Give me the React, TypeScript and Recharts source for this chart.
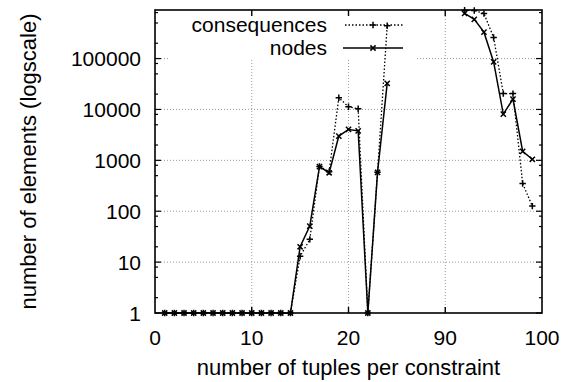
import React from "react";
import { LineChart, Line, XAxis, YAxis, CartesianGrid, Legend } from "recharts";

// ---- data ----
const tuplesLeft = [1, 2, 3, 4, 5, 6, 7, 8, 9, 10, 11, 12, 13, 14, 15, 16, 17, 18, 19, 20, 21, 22, 23, 24];
const nodesLeft = [1, 1, 1, 1, 1, 1, 1, 1, 1, 1, 1, 1, 1, 1, 20, 51, 750, 570, 3000, 4050, 3800, 1, 580, 32600];
const consequencesLeft = [1, 1, 1, 1, 1, 1, 1, 1, 1, 1, 1, 1, 1, 1, 13, 28, 760, 600, 17000, 11300, 10300, 1, 580, 440000];

const tuplesRight = [92, 93, 94, 95, 96, 97, 98, 99];
const nodesRight = [770000, 590000, 330000, 86000, 8100, 16000, 1500, 1050];
const consequencesRight = [890000, 880000, 770000, 260000, 20500, 20500, 350, 126];

const tupleTickValues = [0, 10, 20, 90, 100];
const tupleTickLabels = ["0", "10", "20", "90", "100"];
const elementMajorTicks = [1, 10, 100, 1000, 10000, 100000];
const elementTickLabels = ["1", "10", "100", "1000", "10000", "100000"];
const minorFactors = [2, 5, 8];

// ---- broken x axis: 0..25 then 90..100 ----
const breakAxis = (t: number) => (t <= 50 ? t : t - 60);

const leftRows = tuplesLeft.map((t, i) => ({ x: breakAxis(t), nodes: nodesLeft[i], consequences: consequencesLeft[i] }));
const rightRows = tuplesRight.map((t, i) => ({ x: breakAxis(t), nodes: nodesRight[i], consequences: consequencesRight[i] }));
// a null row marks the break between the two parts of the axis
const data = [...leftRows, { x: breakAxis(28), nodes: null, consequences: null }, ...rightRows];

const xTickPositions = tupleTickValues.map(breakAxis);
const X_MAX = breakAxis(100);
const Y_MAX = 900000;
const yTicks: number[] = [];
elementMajorTicks.forEach((d) => {
  yTicks.push(d);
  minorFactors.forEach((f) => {
    if (d * f < Y_MAX) yTicks.push(d * f);
  });
});
yTicks.sort((a, b) => a - b);

const FONT = "'Liberation Sans', Arial, Helvetica, sans-serif";
const W = 567;
const H = 382;
const MARGIN = { top: 10, right: 25, bottom: 0, left: 0 };
const Y_AXIS_W = 155;
const X_AXIS_H = 69;
const PLOT_X = MARGIN.left + Y_AXIS_W;
const PLOT_Y = MARGIN.top;
const PLOT_W = W - MARGIN.left - MARGIN.right - Y_AXIS_W;
const PLOT_H = H - MARGIN.top - MARGIN.bottom - X_AXIS_H;

// same mapping as the chart axes (linear x over [0, X_MAX], log y over [1, Y_MAX])
const xPix = (v: number) => PLOT_X + (v / X_MAX) * PLOT_W;
const yPix = (v: number) => PLOT_Y + PLOT_H - (Math.log10(v) / Math.log10(Y_MAX)) * PLOT_H;

// legend box (blanks the grid behind the key)
const BOX = { left: 170, right: 417, bottom: 60 };

const gridStyle = { stroke: "#9a9a9a", strokeWidth: 1, strokeDasharray: "1 2" };

const renderH = (p: any) => {
  const { x1, x2, y1, key } = p;
  if (y1 < BOX.bottom) {
    return (
      <g key={key}>
        <line x1={x1} x2={BOX.left} y1={y1} y2={y1} {...gridStyle} />
        <line x1={BOX.right} x2={x2} y1={y1} y2={y1} {...gridStyle} />
      </g>
    );
  }
  return <line key={key} x1={x1} x2={x2} y1={y1} y2={y1} {...gridStyle} />;
};

const renderV = (p: any) => {
  const { x1, y1, y2, key } = p;
  const top = x1 > BOX.left && x1 < BOX.right ? BOX.bottom : y1;
  return <line key={key} x1={x1} x2={x1} y1={top} y2={y2} {...gridStyle} />;
};

const XTick = (props: any) => {
  const { x, y, payload } = props;
  const i = xTickPositions.indexOf(payload.value);
  return (
    <text x={x} y={y + 32} textAnchor="middle" fontSize={21} fontFamily={FONT} fill="#000">
      {tupleTickLabels[i]}
    </text>
  );
};

const YTick = (props: any) => {
  const { x, y, payload } = props;
  const i = elementMajorTicks.indexOf(payload.value);
  if (i < 0) return <g />;
  return (
    <text x={x - 14} y={y + 7.5} textAnchor="end" fontSize={21} fontFamily={FONT} fill="#000">
      {elementTickLabels[i]}
    </text>
  );
};

const crossPath = (cx: number, cy: number, r: number) =>
  `M${cx - r},${cy - r}L${cx + r},${cy + r}M${cx - r},${cy + r}L${cx + r},${cy - r}`;
const plusPath = (cx: number, cy: number, r: number) => `M${cx - r},${cy}L${cx + r},${cy}M${cx},${cy - r}L${cx},${cy + r}`;

const CrossDot = (props: any) => {
  const { cx, cy, index, value } = props;
  if (value == null || cx == null || cy == null) return <g key={`c${index}`} />;
  return <path key={`c${index}`} d={crossPath(cx, cy, 2.6)} stroke="#000" strokeWidth={1.5} fill="none" />;
};

const PlusDot = (props: any) => {
  const { cx, cy, index, value } = props;
  if (value == null || cx == null || cy == null) return <g key={`p${index}`} />;
  return <path key={`p${index}`} d={plusPath(cx, cy, 3.2)} stroke="#000" strokeWidth={1.5} fill="none" />;
};

// overlay: plot frame with inward (mirrored) ticks, and the key
const KeyContent = () => {
  const innerX = xTickPositions.slice(1, -1);
  const bottom = PLOT_Y + PLOT_H;
  const right = PLOT_X + PLOT_W;
  return (
    <svg width={W} height={H} style={{ position: "absolute", left: 0, top: 0, overflow: "visible" }}>
      <rect x={PLOT_X} y={PLOT_Y} width={PLOT_W} height={PLOT_H} fill="none" stroke="#000" strokeWidth={1.6} />
      {innerX.map((v) => (
        <g key={`xt${v}`}>
          <line x1={xPix(v)} x2={xPix(v)} y1={bottom} y2={bottom - 6} stroke="#000" strokeWidth={1.4} />
          <line x1={xPix(v)} x2={xPix(v)} y1={PLOT_Y} y2={PLOT_Y + 6} stroke="#000" strokeWidth={1.4} />
        </g>
      ))}
      {yTicks.map((v) => {
        const len = elementMajorTicks.indexOf(v) >= 0 ? 6 : 3;
        const y = yPix(v);
        return (
          <g key={`yt${v}`}>
            <line x1={PLOT_X} x2={PLOT_X + len} y1={y} y2={y} stroke="#000" strokeWidth={1.2} />
            <line x1={right} x2={right - len} y1={y} y2={y} stroke="#000" strokeWidth={1.2} />
          </g>
        );
      })}
      <text x={327} y={32} textAnchor="end" fontSize={21} fontFamily={FONT} fill="#000">
        consequences
      </text>
      <line x1={345} x2={403} y1={25} y2={25} stroke="#000" strokeWidth={1.5} strokeDasharray="1.5 2" />
      <path d={plusPath(373, 25, 3.2)} stroke="#000" strokeWidth={1.5} />
      <text x={327} y={55} textAnchor="end" fontSize={21} fontFamily={FONT} fill="#000">
        nodes
      </text>
      <line x1={343} x2={403} y1={48} y2={48} stroke="#000" strokeWidth={1.5} />
      <path d={crossPath(373, 48, 2.6)} stroke="#000" strokeWidth={1.5} />
    </svg>
  );
};

const XTitle = (props: any) => {
  const vb = props.viewBox || {};
  const cx = (vb.x ?? PLOT_X) + (vb.width ?? PLOT_W) / 2;
  return (
    <text x={cx} y={375} textAnchor="middle" fontSize={22} fontFamily={FONT} fill="#000">
      number of tuples per constraint
    </text>
  );
};

const YTitle = (props: any) => {
  const vb = props.viewBox || {};
  const cy = (vb.y ?? PLOT_Y) + (vb.height ?? PLOT_H) / 2;
  const bx = 36;
  return (
    <text x={bx} y={cy} transform={`rotate(-90, ${bx}, ${cy})`} textAnchor="middle" fontSize={22} fontFamily={FONT} fill="#000">
      number of elements (logscale)
    </text>
  );
};

export default function App() {
  return (
    <div style={{ position: "absolute", left: 0, top: 0, width: W, height: H, background: "#fff" }}>
      <LineChart width={W} height={H} data={data} margin={MARGIN}>
        <CartesianGrid
          horizontalValues={[10, 100, 1000, 10000, 100000]}
          verticalValues={[10, 20, 30]}
          horizontal={renderH}
          vertical={renderV}
        />
        <XAxis
          type="number"
          dataKey="x"
          domain={[0, X_MAX]}
          ticks={xTickPositions}
          interval={0}
          height={X_AXIS_H}
          tickSize={0}
          tickMargin={0}
          tickLine={false}
          tick={XTick}
          axisLine={false}
          label={<XTitle />}
        />
        <YAxis
          scale="log"
          domain={[1, Y_MAX]}
          ticks={yTicks}
          interval={0}
          width={Y_AXIS_W}
          tickSize={0}
          tickMargin={0}
          tickLine={false}
          tick={YTick}
          axisLine={false}
          label={<YTitle />}
        />
        <Line
          dataKey="consequences"
          name="consequences"
          stroke="#000"
          strokeWidth={1.3}
          strokeDasharray="1.5 2"
          dot={PlusDot}
          activeDot={false}
          isAnimationActive={false}
          type="linear"
        />
        <Line
          dataKey="nodes"
          name="nodes"
          stroke="#000"
          strokeWidth={1.5}
          dot={CrossDot}
          activeDot={false}
          isAnimationActive={false}
          type="linear"
        />
        <Legend
          layout="horizontal"
          verticalAlign="middle"
          align="center"
          content={KeyContent}
          wrapperStyle={{ position: "absolute", left: 0, top: 0, width: W, height: H, pointerEvents: "none" }}
        />
      </LineChart>
    </div>
  );
}
